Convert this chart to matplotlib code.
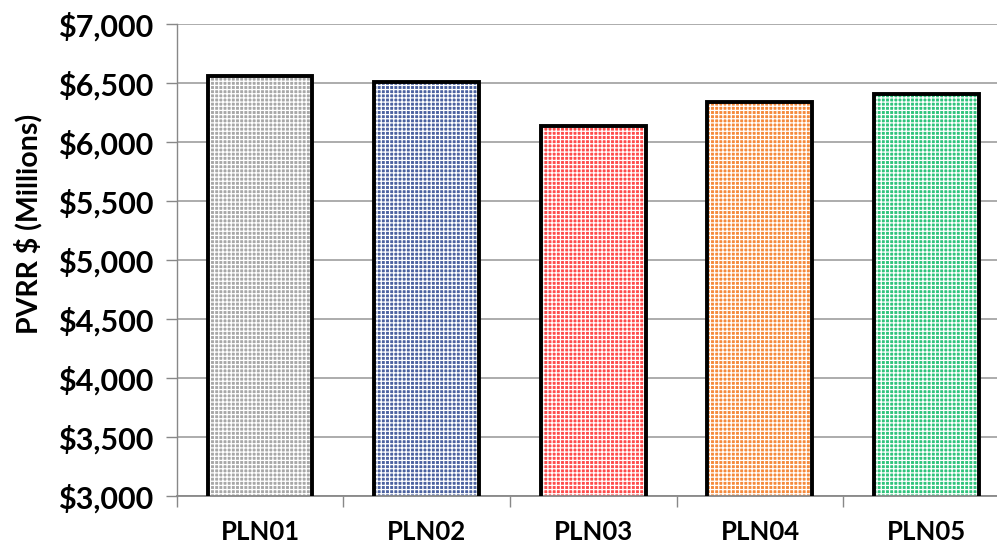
import matplotlib
matplotlib.use("Agg")
import matplotlib.pyplot as plt
from matplotlib.ticker import FuncFormatter, FixedLocator

# Portfolio PVRR by plan
plans = ["PLN01", "PLN02", "PLN03", "PLN04", "PLN05"]
pvrr = [6557, 6508, 6138, 6336, 6403]
fill_colors = ["#a8a8a8", "#4c62a0", "#ff4c4c", "#f58a3c", "#30c47c"]

y_min, y_max, y_step = 3000, 7000, 500

plt.rcParams["font.family"] = ["Lato", "DejaVu Sans"]
plt.rcParams["hatch.linewidth"] = 0.9

W, H = 997, 548
fig = plt.figure(figsize=(W / 100, H / 100), dpi=100)
ax = fig.add_axes([0.1772, 0.0949, 0.8358, 0.8613])

x = list(range(len(plans)))
# patterned fill
ax.bar(x, pvrr, width=0.63, color=fill_colors, edgecolor="white",
       hatch="++++", linewidth=0, zorder=2)
# black outline
ax.bar(x, pvrr, width=0.63, fill=False, edgecolor="black",
       linewidth=2.8, zorder=3)

ax.set_xlim(-0.5, len(plans) - 0.5)
ax.set_ylim(y_min, y_max)
ax.yaxis.set_major_locator(FixedLocator(list(range(y_min, y_max + 1, y_step))))
ax.yaxis.set_major_formatter(FuncFormatter(lambda v, p: f"${v:,.0f}"))

ax.set_xticks(x)
ax.set_xticklabels(plans)
ax.set_xticks([i - 0.5 for i in range(len(plans) + 1)], minor=True)
ax.tick_params(axis="x", which="major", length=0, pad=17, labelsize=18.5)
ax.tick_params(axis="x", which="minor", length=8, color="#888888", width=1)
ax.tick_params(axis="y", which="major", length=8, color="#888888", width=1,
               pad=9, labelsize=22)
for lbl in ax.get_xticklabels() + ax.get_yticklabels():
    lbl.set_fontweight("bold")

ax.grid(axis="y", color="#a6a6a6", linewidth=1.3, zorder=0)
ax.set_axisbelow(True)
for side in ("top", "right"):
    ax.spines[side].set_visible(False)
ax.spines["left"].set_color("#888888")
ax.spines["bottom"].set_color("#888888")
ax.spines["left"].set_linewidth(1)
ax.spines["bottom"].set_linewidth(1.3)

# axis title, set a little above the axis midpoint
fig.text(28 / W, 1 - 224 / H, "PVRR $ (Millions)", rotation=90,
         ha="center", va="center", fontsize=20.5, fontweight="bold")

fig.savefig("out.png", dpi=100)
